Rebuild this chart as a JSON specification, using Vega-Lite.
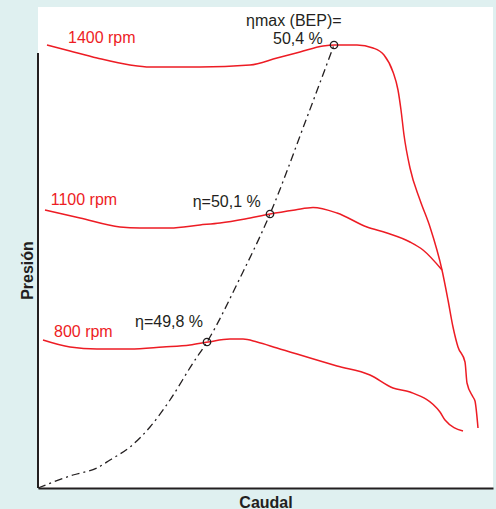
{
  "$schema": "https://vega.github.io/schema/vega-lite/v6.json",
  "width": 455,
  "height": 481,
  "autosize": "none",
  "padding": {"left": 38, "top": 7, "right": 3, "bottom": 21},
  "background": "#dff0f0",
  "config": {"view": {"stroke": null, "fill": "white"}, "font": "Liberation Sans"},
  "datasets": {
    "curves": [
      {"curve": "1400", "x": 9, "y": 443}, {"curve": "1400", "x": 32, "y": 437}, {"curve": "1400", "x": 59, "y": 430},
      {"curve": "1400", "x": 92, "y": 423}, {"curve": "1400", "x": 112, "y": 421}, {"curve": "1400", "x": 162, "y": 421},
      {"curve": "1400", "x": 212, "y": 423}, {"curve": "1400", "x": 239, "y": 430}, {"curve": "1400", "x": 262, "y": 436},
      {"curve": "1400", "x": 285, "y": 442}, {"curve": "1400", "x": 297, "y": 443}, {"curve": "1400", "x": 319, "y": 443},
      {"curve": "1400", "x": 335, "y": 440}, {"curve": "1400", "x": 346, "y": 433}, {"curve": "1400", "x": 355, "y": 416},
      {"curve": "1400", "x": 360, "y": 398}, {"curve": "1400", "x": 363, "y": 378}, {"curve": "1400", "x": 366, "y": 353},
      {"curve": "1400", "x": 372, "y": 320}, {"curve": "1400", "x": 382, "y": 288}, {"curve": "1400", "x": 392, "y": 261},
      {"curve": "1400", "x": 404, "y": 218}, {"curve": "1400", "x": 410, "y": 188}, {"curve": "1400", "x": 415, "y": 161},
      {"curve": "1400", "x": 420, "y": 141}, {"curve": "1400", "x": 427, "y": 126}, {"curve": "1400", "x": 429, "y": 105},
      {"curve": "1400", "x": 435, "y": 91}, {"curve": "1400", "x": 437, "y": 87}, {"curve": "1400", "x": 440, "y": 60},
      {"curve": "1100", "x": 7, "y": 278}, {"curve": "1100", "x": 42, "y": 270}, {"curve": "1100", "x": 82, "y": 261},
      {"curve": "1100", "x": 102, "y": 260}, {"curve": "1100", "x": 132, "y": 260}, {"curve": "1100", "x": 162, "y": 263},
      {"curve": "1100", "x": 182, "y": 265}, {"curve": "1100", "x": 207, "y": 269}, {"curve": "1100", "x": 232, "y": 274},
      {"curve": "1100", "x": 257, "y": 278}, {"curve": "1100", "x": 275, "y": 280.5}, {"curve": "1100", "x": 299, "y": 275},
      {"curve": "1100", "x": 329, "y": 261}, {"curve": "1100", "x": 349, "y": 255}, {"curve": "1100", "x": 372, "y": 246},
      {"curve": "1100", "x": 385, "y": 238}, {"curve": "1100", "x": 404, "y": 218},
      {"curve": "800", "x": 5, "y": 148}, {"curve": "800", "x": 32, "y": 141}, {"curve": "800", "x": 59, "y": 139},
      {"curve": "800", "x": 92, "y": 139}, {"curve": "800", "x": 125, "y": 141}, {"curve": "800", "x": 152, "y": 143},
      {"curve": "800", "x": 170, "y": 146}, {"curve": "800", "x": 192, "y": 149}, {"curve": "800", "x": 205, "y": 149},
      {"curve": "800", "x": 219, "y": 146}, {"curve": "800", "x": 239, "y": 140}, {"curve": "800", "x": 299, "y": 122},
      {"curve": "800", "x": 332, "y": 113}, {"curve": "800", "x": 355, "y": 100}, {"curve": "800", "x": 372, "y": 96},
      {"curve": "800", "x": 402, "y": 76}, {"curve": "800", "x": 407, "y": 68}, {"curve": "800", "x": 425, "y": 57}
    ],
    "eff": [
      {"x": 0, "y": 0}, {"x": 35, "y": 13}, {"x": 59, "y": 20}, {"x": 72, "y": 28}, {"x": 92, "y": 41},
      {"x": 112, "y": 61}, {"x": 132, "y": 88}, {"x": 155, "y": 125}, {"x": 169, "y": 146}, {"x": 202, "y": 210},
      {"x": 232, "y": 274}, {"x": 268, "y": 368}, {"x": 296, "y": 443}
    ],
    "pts": [{"x": 169, "y": 146}, {"x": 232, "y": 274}, {"x": 296, "y": 443}],
    "rpm": [
      {"x": 30, "y": 445, "label": "1400 rpm"},
      {"x": 12.7, "y": 283, "label": "1100 rpm"},
      {"x": 16, "y": 151, "label": "800 rpm"}
    ],
    "etas": [
      {"x": 208, "y": 462, "label": "ηmax (BEP)="},
      {"x": 235, "y": 444, "label": "50,4 %"},
      {"x": 154.7, "y": 281.3, "label": "η=50,1 %"},
      {"x": 97, "y": 160.7, "label": "η=49,8 %"}
    ],
    "yaxis": [{"x": 0, "y": 0, "y2": 435}]
  },
  "encoding": {
    "x": {
      "field": "x", "type": "quantitative",
      "scale": {"domain": [0, 455], "nice": false, "zero": false},
      "axis": {
        "title": "Caudal", "domain": true, "domainColor": "#231f20", "domainWidth": 2,
        "ticks": false, "labels": false, "grid": false,
        "titleFont": "Liberation Sans", "titleFontSize": 16, "titleFontWeight": "bold", "titleColor": "#231f20",
        "titleBaseline": "alphabetic", "titleY": 19, "titleX": 227.5, "titleAlign": "center"
      }
    },
    "y": {
      "field": "y", "type": "quantitative",
      "scale": {"domain": [0, 481], "nice": false, "zero": false},
      "axis": {
        "title": "Presión", "domain": false, "ticks": false, "labels": false, "grid": false,
        "titleFont": "Liberation Sans", "titleFontSize": 16, "titleFontWeight": "bold", "titleColor": "#231f20",
        "titleAngle": -90, "titleBaseline": "alphabetic", "titleX": -5.5, "titleY": 263, "titleAlign": "center"
      }
    }
  },
  "layer": [
    {
      "data": {"name": "yaxis"},
      "mark": {"type": "rule", "color": "#231f20", "strokeWidth": 2},
      "encoding": {"y2": {"field": "y2"}}
    },
    {
      "data": {"name": "curves"},
      "mark": {"type": "line", "color": "#ed1c24", "strokeWidth": 1.5, "interpolate": "monotone"},
      "encoding": {"detail": {"field": "curve", "type": "nominal"}}
    },
    {
      "data": {"name": "eff"},
      "mark": {"type": "line", "color": "#231f20", "strokeWidth": 1.3, "strokeDash": [8, 4, 2, 4], "interpolate": "monotone"},
      "encoding": {}
    },
    {
      "data": {"name": "pts"},
      "mark": {"type": "point", "shape": "circle", "filled": false, "color": "#231f20", "strokeWidth": 1.3, "size": 55, "opacity": 1}
    },
    {
      "data": {"name": "rpm"},
      "mark": {"type": "text", "align": "left", "baseline": "alphabetic", "fontSize": 16, "color": "#ed1c24", "font": "Liberation Sans"},
      "encoding": {"text": {"field": "label"}}
    },
    {
      "data": {"name": "etas"},
      "mark": {"type": "text", "align": "left", "baseline": "alphabetic", "fontSize": 16, "color": "#231f20", "font": "Liberation Sans"},
      "encoding": {"text": {"field": "label"}}
    }
  ]
}
